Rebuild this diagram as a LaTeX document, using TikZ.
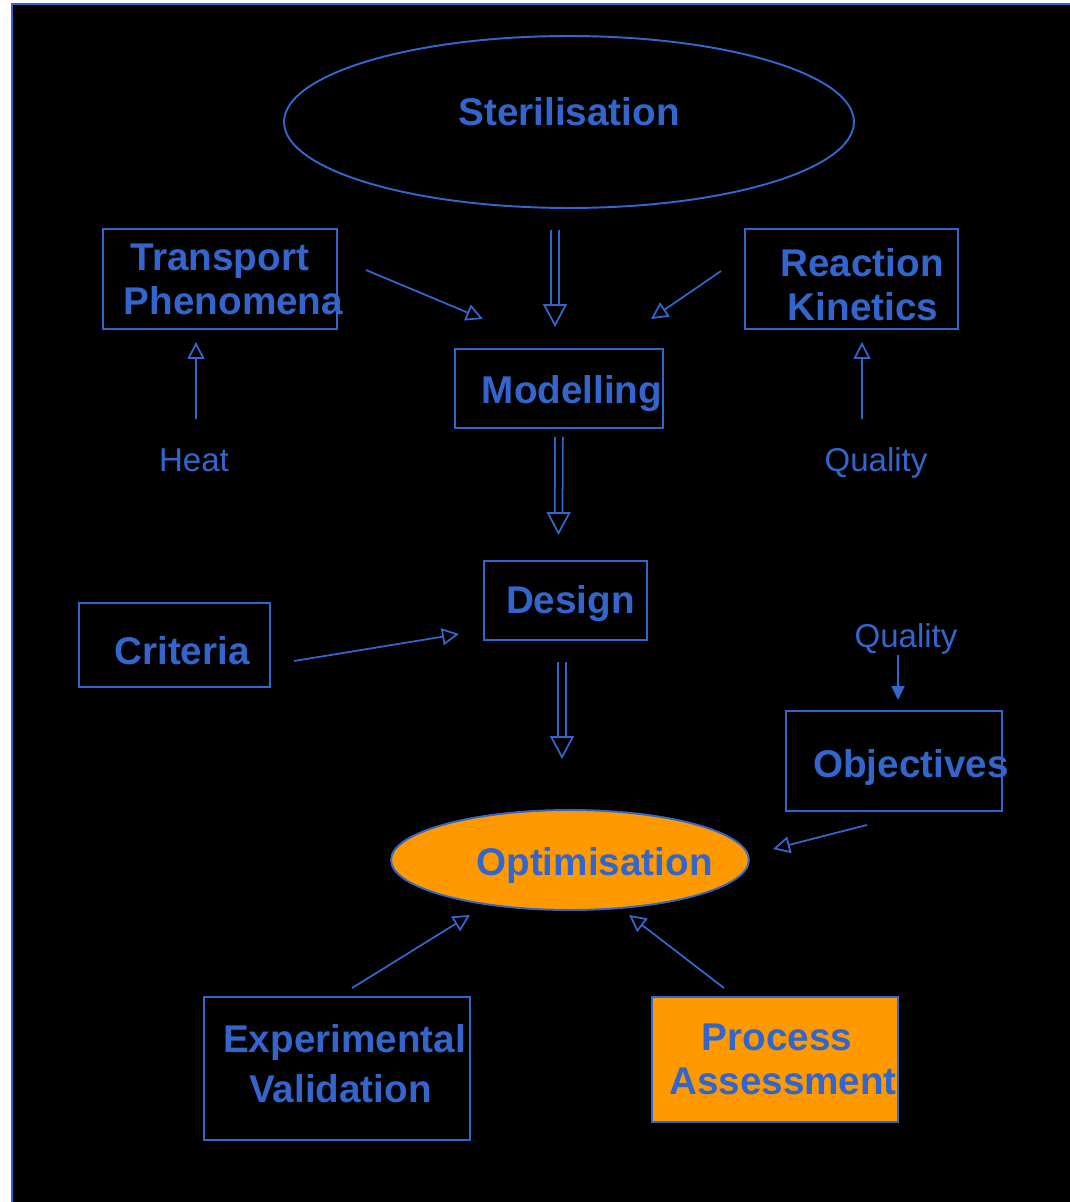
\documentclass[tikz,border=0pt]{standalone}
\usepackage{fontspec}
\setmainfont{Liberation Sans}
\usepackage{tikz}
\usetikzlibrary{arrows.meta, shapes.geometric}
\definecolor{diagBlue}{HTML}{3366CC}
\definecolor{diagOrange}{HTML}{FF9900}
\newcommand{\nudgetext}[3]{\raisebox{#2}[\height][\depth]{\hspace*{#1}#3\hspace*{-#1}}}

\begin{document}
\begin{tikzpicture}[
  x=0.02cm, y=-0.02cm,
  every node/.style={text=diagBlue},
  title/.style={font=\fontsize{22}{25}\selectfont\bfseries, align=center, inner sep=0pt},
  box/.style={title, rectangle, draw=diagBlue, line width=1.1pt},
  oval/.style={title, ellipse, draw=diagBlue, line width=1.1pt},
  plain/.style={font=\fontsize{18.8}{22}\selectfont, inner sep=0pt},
  thinarr/.style={draw=diagBlue, line width=1pt, -{Triangle[open, length=0.34cm, width=0.34cm]}},
  solidarr/.style={draw=diagBlue, line width=1pt, -{Triangle[length=0.28cm, width=0.26cm]}},
  bigarr/.style={draw=diagBlue, line width=1pt, double=black, double distance=0.12cm,
                 -{Triangle[open, length=0.46cm, width=0.48cm]}}
]
\useasboundingbox (0,0) rectangle (1070,1202);
\fill[white] (0,0) rectangle (1070,1202);
\fill[black] (12,4) rectangle (1070,1202);
\draw[diagBlue, line width=1.2pt] (12,1202) -- (12,4) -- (1070,4);

\node[oval, minimum width=11.4cm, minimum height=3.44cm] (steril) at (569,122)
  {\nudgetext{0cm}{0.2cm}{Sterilisation}};
\node[box, minimum width=4.68cm, minimum height=2cm] (transport) at (220,279)
  {Transport\\\nudgetext{0.27cm}{0cm}{Phenomena}};
\node[box, minimum width=4.26cm, minimum height=2cm] (kinetics) at (851.5,279)
  {\nudgetext{0.21cm}{-0.11cm}{Reaction}\\\nudgetext{0.23cm}{-0.11cm}{Kinetics}};
\node[box, minimum width=4.16cm, minimum height=1.58cm] (model) at (559,388.5)
  {\nudgetext{0.26cm}{-0.1cm}{Modelling}};
\node[box, minimum width=3.26cm, minimum height=1.58cm] (design) at (565.5,600.5)
  {\nudgetext{0.1cm}{-0.06cm}{Design}};
\node[box, minimum width=3.82cm, minimum height=1.68cm] (criteria) at (174.5,645)
  {\nudgetext{0.15cm}{-0.12cm}{Criteria}};
\node[box, minimum width=4.32cm, minimum height=2cm] (objectives) at (894,761)
  {\nudgetext{0.34cm}{-0.14cm}{Objectives}};
\node[oval, fill=diagOrange, minimum width=7.16cm, minimum height=2cm] (optim) at (570,860)
  {\nudgetext{0.49cm}{-0.1cm}{Optimisation}};
\node[box, minimum width=5.32cm, minimum height=2.86cm] (validation) at (337,1068.5)
  {\nudgetext{0.15cm}{0.1cm}{Experimental}\\[0.12cm]\nudgetext{0.07cm}{0.1cm}{Validation}};
\node[box, fill=diagOrange, minimum width=4.92cm, minimum height=2.5cm] (assess) at (775,1059.5)
  {\nudgetext{0.04cm}{0cm}{Process}\\\nudgetext{0.16cm}{0cm}{Assessment}};
\node[plain] (heat) at (194,460) {Heat};
\node[plain] (qualkin) at (876,463) {Quality};
\node[plain] (qualobj) at (906,639) {Quality};

\draw[bigarr] ([shift={(-14,21)}]steril.south) -- ([shift={(-4,-21)}]model.north);
\draw[bigarr] ([shift={(0,8)}]model.south) -- ([shift={(-7,-25)}]design.north);
\draw[bigarr] ([shift={(-3.5,21)}]design.south) -- ([shift={(-8,-50)}]optim.north);

\draw[thinarr] ([shift={(28,-9)}]transport.east) -- ([shift={(29,-29)}]model.north west);
\draw[thinarr] ([shift={(-23,-8)}]kinetics.west) -- ([shift={(-13,-29)}]model.north east);
\draw[thinarr] ([shift={(2,-41)}]heat.center) -- ([shift={(-24,12)}]transport.south);
\draw[thinarr] ([shift={(-14,-44)}]qualkin.center) -- ([shift={(10.5,12)}]kinetics.south);
\draw[thinarr] ([shift={(23,16)}]criteria.east) -- ([shift={(-24,33.5)}]design.west);
\draw[solidarr] ([shift={(-8,16)}]qualobj.center) -- ([shift={(4,-10)}]objectives.north);
\draw[thinarr] ([shift={(-27,13)}]objectives.south) -- ([shift={(23,-11)}]optim.east);
\draw[thinarr] ([shift={(15,-8)}]validation.north) -- ([shift={(-100,4)}]optim.south);
\draw[thinarr] ([shift={(-51,-8)}]assess.north) -- ([shift={(59,4)}]optim.south);
\end{tikzpicture}
\end{document}
